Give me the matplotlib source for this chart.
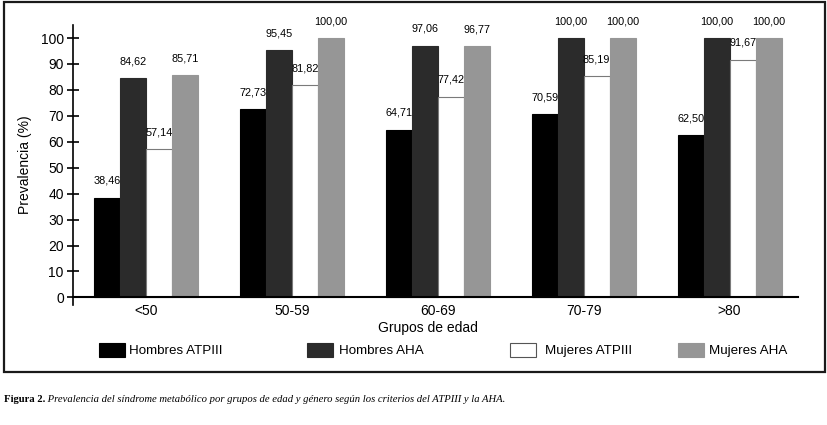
import matplotlib.pyplot as plt
from matplotlib.patches import Rectangle
import numpy as np

plt.rcParams['font.family'] = ['Liberation Sans', 'DejaVu Sans']

# data
grupos = ['<50', '50-59', '60-69', '70-79', '>80']
series = ['Hombres ATPIII', 'Hombres AHA', 'Mujeres ATPIII', 'Mujeres AHA']
hombres_atp = [38.46, 72.73, 64.71, 70.59, 62.50]
hombres_aha = [84.62, 95.45, 97.06, 100.00, 100.00]
mujeres_atp = [57.14, 81.82, 77.42, 85.19, 91.67]
mujeres_aha = [85.71, 100.00, 96.77, 100.00, 100.00]
valores = [hombres_atp, hombres_aha, mujeres_atp, mujeres_aha]

colores = ['#000000', '#2b2b2b', '#ffffff', '#969696']
bordes = ['#000000', '#2b2b2b', '#7a7a7a', '#969696']

fig = plt.figure(figsize=(8.28, 4.25), dpi=100)
ax = fig.add_axes([0.088, 0.282, 0.876, 0.659])

x = np.arange(len(grupos))
w = 0.178
for i, vals in enumerate(valores):
    pos = x + (i - 1.5) * w
    ax.bar(pos, vals, width=w, color=colores[i], edgecolor=bordes[i], linewidth=0.8)
    for p, v in zip(pos, vals):
        ax.text(p, v + 4.5, f"{v:.2f}".replace('.', ','), ha='center', va='bottom',
                fontsize=7.8, family=['Liberation Sans Narrow', 'Liberation Sans'])

ax.set_xlim(-0.5, 4.47)
ax.set_ylim(-3, 105)
ax.set_yticks(range(0, 101, 10))
ax.set_xticks(x)
ax.set_xticklabels(grupos, fontsize=10)
ax.tick_params(axis='y', direction='inout', length=9, width=1.2, labelsize=10, pad=2)
ax.tick_params(axis='x', length=0, pad=5)
ax.spines['top'].set_visible(False)
ax.spines['right'].set_visible(False)
ax.spines['bottom'].set_position(('data', 0))
ax.spines['bottom'].set_linewidth(1.5)
ax.spines['left'].set_linewidth(1.2)
ax.set_ylabel('Prevalencia (%)', fontsize=10, labelpad=6)
ax.set_xlabel('Grupos de edad', fontsize=10)
ax.xaxis.set_label_coords(0.49, -0.055)

# legend drawn by hand (spacing in the original is irregular)
leg_x = [99, 307, 510, 678]
txt_x = [129, 339, 545, 709]
for i, nombre in enumerate(series):
    fig.patches.append(Rectangle((leg_x[i] / 828, 1 - 357 / 425), 26 / 828, 14 / 425,
                                 transform=fig.transFigure, facecolor=colores[i],
                                 edgecolor='#555555' if i == 2 else colores[i], linewidth=0.8))
    fig.text(txt_x[i] / 828, 1 - 351 / 425, nombre, fontsize=9.6, va='center', ha='left')

# outer frame
fig.patches.append(Rectangle((4 / 828, 1 - 372 / 425), 821 / 828, 370 / 425,
                             transform=fig.transFigure, facecolor='none',
                             edgecolor='#1a1a1a', linewidth=1.6))

t1 = fig.text(4 / 828, 1 - 400 / 425, 'Figura 2.', fontsize=7.7, fontweight='bold',
              family='Liberation Serif', va='center')
ax.annotate(' Prevalencia del síndrome metabólico por grupos de edad y género según los criterios del ATPIII y la AHA.',
            xy=(1, 0), xycoords=t1, va='bottom', ha='left', fontsize=7.7,
            family='Liberation Serif', style='italic', annotation_clip=False)

fig.savefig('out.png', dpi=100)
